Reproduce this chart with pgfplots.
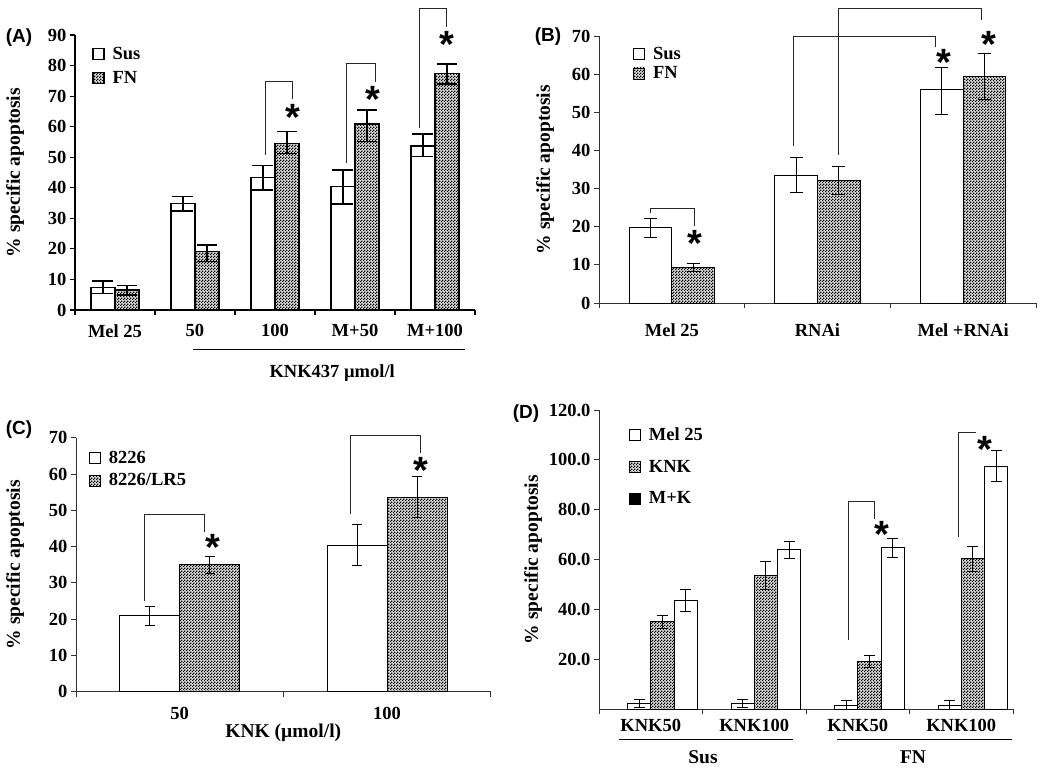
\documentclass[border=0pt]{standalone}
\usepackage{fontspec}
\setmainfont{Liberation Serif}
\setsansfont{Liberation Sans}
\usepackage{pgfplots}
\pgfplotsset{compat=1.18}
\usetikzlibrary{patterns.meta}

% fine grey checkerboard used for the FN / KNK / LR5 bars
\pgfdeclarepattern{
  name=finecheck, type=uncolored,
  bottom left={\pgfpoint{0pt}{0pt}}, top right={\pgfpoint{3pt}{3pt}},
  tile size={\pgfpoint{3pt}{3pt}},
  code={
    \pgfpathrectangle{\pgfpoint{0pt}{0pt}}{\pgfpoint{1.5pt}{1.5pt}}
    \pgfpathrectangle{\pgfpoint{1.5pt}{1.5pt}}{\pgfpoint{1.5pt}{1.5pt}}
    \pgfusepath{fill}
  }
}

\newcommand\tickf{\bfseries\fontsize{18.5}{20}\selectfont}
\newcommand\labf{\bfseries\fontsize{19.5}{21}\selectfont}
\newcommand\panf{\sffamily\bfseries\fontsize{19}{21}\selectfont}
\newcommand\starf{\sffamily\bfseries\fontsize{38}{38}\selectfont}

\tikzset{brk/.style={line width=0.8pt, black!85}}
\pgfplotsset{
  panel/.style={
    scale only axis, axis lines=left, axis line style={-, line width=0.9pt, black!80},
    enlargelimits=false, clip=false, ybar=0pt, ymin=0,
    tick align=outside, major tick length=5pt, tick style={line width=0.9pt, black!80},
    /pgf/number format/assume math mode=true,
    tick label style={font=\tickf},
    ylabel={\% specific apoptosis},
    legend style={draw=none, fill=none, font=\tickf, anchor=north west, row sep=4pt},
    legend cell align=left,
    every axis plot post/.append style={legend image code/.code={%
      \draw[##1] (0pt,-5.5pt) rectangle (11pt,5.5pt); \path (0pt,0pt) (17pt,0pt);}},
  },
  sus/.style={fill=white, draw=black},
  fn/.style={fill=black!15, draw=black, postaction={pattern=finecheck, pattern color=black}},
}

\begin{document}
\begin{tikzpicture}
\useasboundingbox (0pt,0pt) rectangle (1050pt,-768pt);

% ---------------- (A)
\begin{axis}[panel, at={(75pt,-310pt)}, anchor=south west,
  width=400pt, height=275pt, xmin=-0.5, xmax=4.5, ymax=90,
  bar width=0.3, ytick={0,10,...,90},
  xtick={-0.5,0.5,...,4.5}, xticklabels={Mel 25,50,100,M+50,M+100,{}},
  xticklabel style={xshift=40pt, yshift=-6pt},
  ylabel style={font=\labf, at={([xshift=-60pt]rel axis cs:0,0.5)}, anchor=center},
  xlabel={KNK437 µmol/l},
  xlabel style={font=\tickf, at={([yshift=-63pt]rel axis cs:0.643,0)}, anchor=center},
  legend style={at={(0.035,0.97)}, row sep=6pt},
  axis line style={line width=1.2pt, black}, tick style={line width=1.2pt, black}]
\addplot[sus, line width=1.3pt, error bars/.cd, y dir=both, y explicit,
  error bar style={line width=1.3pt}, error mark options={rotate=90, mark size=10.5pt, line width=1.3pt}]
  coordinates {(0,7.4) += (0,2.1) -= (0,1.9) (1,34.9) += (0,2.2) -= (0,2.5)
               (2,43.4) += (0,3.9) -= (0,4.1) (3,40.4) += (0,5.4) -= (0,5.7)
               (4,53.7) += (0,3.9) -= (0,3.5)};
\addplot[fn, line width=1.3pt, error bars/.cd, y dir=both, y explicit,
  error bar style={line width=1.3pt}, error mark options={rotate=90, mark size=10pt, line width=1.3pt}]
  coordinates {(0,6.5) += (0,1.5) -= (0,1.6) (1,19.1) += (0,2.2) -= (0,3.3)
               (2,54.5) += (0,3.9) -= (0,3.2) (3,60.9) += (0,4.6) -= (0,5.8)
               (4,77.5) += (0,3.0) -= (0,3.5)};
\legend{Sus,FN}
\draw[brk] (axis cs:1.875,50.7) |- (axis cs:2.221,74.9) -- (axis cs:2.221,68.9);
\draw[brk] (axis cs:2.896,48.0) |- (axis cs:3.25,80.7) -- (axis cs:3.25,74.7);
\draw[brk] (axis cs:3.80,59.5) |- (axis cs:4.146,98.7) -- (axis cs:4.146,92.7);
\node[font=\starf, yshift=-6pt] at (axis cs:2.221,64.9) {*};
\node[font=\starf, yshift=-6pt] at (axis cs:3.229,70.9) {*};
\node[font=\starf, yshift=-6pt] at (axis cs:4.146,88.9) {*};
\end{axis}
\draw[line width=0.9pt] (193pt,-349pt) -- (465pt,-349pt);
\node[font=\panf] at (19pt,-38pt) {(A)};

% ---------------- (B)
\begin{axis}[panel, at={(599pt,-303pt)}, anchor=south west,
  width=437pt, height=267pt, xmin=-0.5, xmax=2.5, ymax=70,
  bar width=0.293, ytick={0,10,...,70},
  xtick={-0.5,0.5,...,2.5}, xticklabels={Mel 25,RNAi,Mel +RNAi,{}},
  xticklabel style={xshift=72.8pt, yshift=-12pt},
  ylabel style={font=\labf, at={([xshift=-54pt]rel axis cs:0,0.5)}, anchor=center},
  legend style={at={(0.071,0.975)}, row sep=2pt}]
\addplot[sus, line width=0.8pt, error bars/.cd, y dir=both, y explicit,
  error bar style={line width=0.8pt}, error mark options={rotate=90, mark size=6.5pt, line width=0.8pt}]
  coordinates {(0,19.7) += (0,2.6) -= (0,2.4) (1,33.5) += (0,4.6) -= (0,4.4)
               (2,55.9) += (0,5.9) -= (0,6.4)};
\addplot[fn, line width=0.8pt, error bars/.cd, y dir=both, y explicit,
  error bar style={line width=0.8pt}, error mark options={rotate=90, mark size=6.5pt, line width=0.8pt}]
  coordinates {(0,9.4) += (0,1.1) -= (0,1.1) (1,32.2) += (0,3.6) -= (0,3.6)
               (2,59.4) += (0,6.1) -= (0,6.0)};
\legend{Sus,FN}
\draw[brk] (axis cs:-0.148,23.6) |- (axis cs:0.157,24.9) -- (axis cs:0.157,20.1);
\draw[brk] (axis cs:0.832,41.2) |- (axis cs:1.811,70) -- (axis cs:1.811,67.2);
\draw[brk] (axis cs:1.141,38.8) |- (axis cs:2.125,77.2) -- (axis cs:2.125,74.2);
\node[font=\starf, yshift=-6pt] at (axis cs:0.157,17.3) {*};
\node[font=\starf, yshift=-6pt] at (axis cs:1.868,64.6) {*};
\node[font=\starf, yshift=-6pt] at (axis cs:2.177,69.4) {*};
\end{axis}
\node[font=\panf] at (548pt,-37pt) {(B)};

% ---------------- (C)
\begin{axis}[panel, at={(76pt,-691.7pt)}, anchor=south west,
  width=414.7pt, height=254pt, xmin=-0.5, xmax=1.5, ymax=70,
  bar width=0.289, ytick={0,10,...,70},
  xtick={-0.5,0.5,1.5}, xticklabels={50,100,{}},
  xticklabel style={xshift=103.7pt, yshift=-7pt},
  ylabel style={font=\labf, at={([xshift=-61pt]rel axis cs:0,0.5)}, anchor=center},
  xlabel={KNK (µmol/l)},
  xlabel style={font=\labf, at={([yshift=-41pt]rel axis cs:0.5,0)}, anchor=center},
  legend style={at={(0.024,0.965)}, row sep=5pt}]
\addplot[sus, line width=0.8pt, error bars/.cd, y dir=both, y explicit,
  error bar style={line width=0.8pt}, error mark options={rotate=90, mark size=5pt, line width=0.8pt}]
  coordinates {(0,21.0) += (0,2.4) -= (0,2.7) (1,40.3) += (0,5.7) -= (0,5.5)};
\addplot[fn, line width=0.8pt, error bars/.cd, y dir=both, y explicit,
  error bar style={line width=0.8pt}, error mark options={rotate=90, mark size=5pt, line width=0.8pt}]
  coordinates {(0,35.0) += (0,2.4) -= (0,2.4) (1,53.6) += (0,5.7) -= (0,5.7)};
\legend{8226,8226/LR5}
\draw[brk] (axis cs:-0.172,25.1) |- (axis cs:0.121,49.0) -- (axis cs:0.121,44.1);
\draw[brk] (axis cs:0.825,49.0) |- (axis cs:1.162,70.6) -- (axis cs:1.162,65.9);
\node[font=\starf, yshift=-6pt] at (axis cs:0.162,41.3) {*};
\node[font=\starf, yshift=-6pt] at (axis cs:1.162,62.7) {*};
\end{axis}
\node[font=\panf] at (19pt,-430pt) {(C)};

% ---------------- (D)
\begin{axis}[panel, at={(599pt,-709pt)}, anchor=south west,
  width=414pt, height=299pt, xmin=-0.5, xmax=3.5, ymax=120,
  bar width=0.225, ytick={20,40,...,120}, yticklabels={20.0,40.0,60.0,80.0,100.0,120.0},
  xtick={-0.5,0.5,...,3.5}, xticklabels={KNK50,KNK100,KNK50,KNK100,{}},
  xticklabel style={xshift=51.75pt, yshift=-2pt},
  ylabel style={font=\labf, at={([xshift=-66pt]rel axis cs:0,0.5)}, anchor=center},
  legend style={at={(0.065,0.955)}, row sep=14pt}]
\addplot[sus, line width=0.8pt, error bars/.cd, y dir=both, y explicit,
  error bar style={line width=0.8pt}, error mark options={rotate=90, mark size=5.5pt, line width=0.8pt}]
  coordinates {(0,2.3) +- (0,1.7) (1,2.3) +- (0,1.7) (2,1.5) +- (0,1.8) (3,1.5) +- (0,1.8)};
\addplot[fn, line width=0.8pt, error bars/.cd, y dir=both, y explicit,
  error bar style={line width=0.8pt}, error mark options={rotate=90, mark size=5.5pt, line width=0.8pt}]
  coordinates {(0,35.2) += (0,2.3) -= (0,2.8) (1,53.6) += (0,5.5) -= (0,5.6)
               (2,19.0) += (0,2.4) -= (0,2.4) (3,60.3) += (0,4.8) -= (0,4.9)};
\addplot[sus, line width=0.8pt, forget plot, error bars/.cd, y dir=both, y explicit,
  error bar style={line width=0.8pt}, error mark options={rotate=90, mark size=5.5pt, line width=0.8pt}]
  coordinates {(0,43.7) += (0,4.3) -= (0,4.5) (1,64.1) += (0,3.1) -= (0,3.8)
               (2,64.7) += (0,3.7) -= (0,3.8) (3,97.5) += (0,6.2) -= (0,6.0)};
\addlegendentry{Mel 25}
\addlegendentry{KNK}
\addlegendimage{fill=black, draw=black}
\addlegendentry{M+K}
\draw[brk] (axis cs:1.91,27.7) |- (axis cs:2.158,83.5) -- (axis cs:2.158,76.1);
\draw[brk] (axis cs:2.977,69.2) |- (axis cs:3.142,111);
\node[font=\starf, yshift=-6pt] at (axis cs:2.232,72.5) {*};
\node[font=\starf, yshift=-6pt] at (axis cs:3.232,106.6) {*};
\end{axis}
\draw[line width=0.9pt] (619pt,-739pt) -- (793pt,-739pt);
\draw[line width=0.9pt] (837pt,-739pt) -- (1012pt,-739pt);
\node[font=\labf] at (703pt,-757pt) {Sus};
\node[font=\labf] at (913pt,-757pt) {FN};
\node[font=\panf] at (526pt,-414pt) {(D)};
\end{tikzpicture}
\end{document}
